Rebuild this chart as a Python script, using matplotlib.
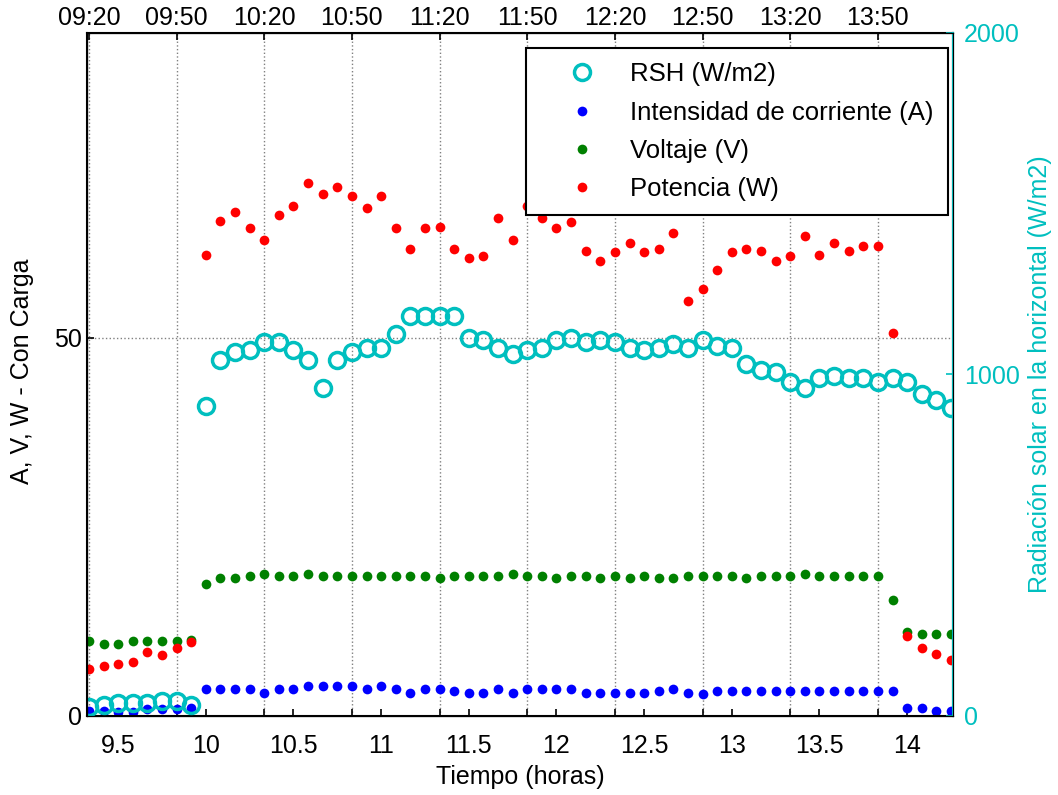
import matplotlib
matplotlib.use("Agg")
import matplotlib.pyplot as plt
from matplotlib.lines import Line2D

plt.rcParams['font.family'] = ['Liberation Sans', 'DejaVu Sans']

# hora de cada medición (cada 5 min)
horas = ["09:20", "09:25", "09:30", "09:35", "09:40", "09:45", "09:50", "09:55",
         "10:00", "10:05", "10:10", "10:15", "10:20", "10:25", "10:30", "10:35",
         "10:40", "10:45", "10:50", "10:55", "11:00", "11:05", "11:10", "11:15",
         "11:20", "11:25", "11:30", "11:35", "11:40", "11:45", "11:50", "11:55",
         "12:00", "12:05", "12:10", "12:15", "12:20", "12:25", "12:30", "12:35",
         "12:40", "12:45", "12:50", "12:55", "13:00", "13:05", "13:10", "13:15",
         "13:20", "13:25", "13:30", "13:35", "13:40", "13:45", "13:50", "13:55",
         "14:00", "14:05", "14:10", "14:15"]

corriente = [0.7, 0.6, 0.5, 0.5, 0.9, 0.9, 0.9, 1.1,
             3.6, 3.6, 3.6, 3.6, 3.1, 3.6, 3.6, 3.9, 3.9, 3.9, 3.9, 3.6,
             3.9, 3.6, 3.1, 3.6, 3.6, 3.35, 3.1, 3.1, 3.6, 3.1,
             3.6, 3.6, 3.6, 3.6, 3.1, 3.1, 3.1, 3.1, 3.1, 3.35,
             3.6, 3.1, 2.9, 3.35, 3.35, 3.35, 3.35, 3.35, 3.35, 3.35,
             3.35, 3.35, 3.35, 3.35, 3.35, 3.35, 1.0, 1.0, 0.7, 0.7]

voltaje = [9.9, 9.5, 9.5, 9.9, 9.9, 9.9, 9.9, 10.1,
           17.5, 18.25, 18.25, 18.5, 18.8, 18.5, 18.5, 18.8, 18.5, 18.5, 18.5, 18.5,
           18.5, 18.5, 18.5, 18.5, 18.25, 18.5, 18.5, 18.5, 18.5, 18.8,
           18.5, 18.5, 18.25, 18.5, 18.5, 18.25, 18.5, 18.25, 18.5, 18.25,
           18.25, 18.5, 18.5, 18.5, 18.5, 18.25, 18.5, 18.5, 18.5, 18.8,
           18.5, 18.5, 18.5, 18.5, 18.5, 15.3, 11.1, 10.85, 10.85, 10.85]

potencia = [6.2, 6.6, 6.9, 7.2, 8.5, 8.1, 9.0, 9.8,
            61.0, 65.5, 66.6, 64.5, 62.9, 66.3, 67.4, 70.5, 69.0, 70.0, 68.7, 67.1,
            68.7, 64.5, 61.8, 64.5, 64.7, 61.8, 60.5, 60.8, 65.8, 62.9,
            67.4, 65.8, 64.5, 65.3, 61.5, 60.2, 61.3, 62.6, 61.3, 61.8,
            63.9, 54.9, 56.5, 58.9, 61.3, 61.8, 61.5, 60.2, 60.8, 63.4,
            61.0, 62.6, 61.5, 62.1, 62.1, 50.7, 10.6, 9.0, 8.2, 7.4]

rsh = [27, 33, 39, 39, 39, 45, 45, 33,
       908, 1043, 1067, 1072, 1096, 1096, 1072, 1043, 961, 1043, 1067, 1078,
       1078, 1119, 1172, 1172, 1172, 1172, 1108, 1102, 1078, 1061,
       1072, 1078, 1102, 1108, 1096, 1102, 1096, 1078, 1072, 1078,
       1090, 1078, 1102, 1084, 1078, 1032, 1014, 1008, 979, 961,
       991, 996, 991, 991, 979, 991, 979, 944, 926, 903]

xticks_bot = [9.5, 10, 10.5, 11, 11.5, 12, 12.5, 13, 13.5, 14]
xlabels_bot = ["9.5", "10", "10.5", "11", "11.5", "12", "12.5", "13", "13.5", "14"]
xlabels_top = ["09:20", "09:50", "10:20", "10:50", "11:20",
               "11:50", "12:20", "12:50", "13:20", "13:50"]


def a_horas(hhmm):
    h, m = hhmm.split(":")
    return int(h) + int(m) / 60


t = [a_horas(h) for h in horas]
xticks_top = [a_horas(h) for h in xlabels_top]

cyan = '#00BFBF'
fs = 18

fig = plt.figure(figsize=(10.58, 7.95), dpi=100)
ax = fig.add_axes([0.0822, 0.0994, 0.8186, 0.8591])

ax.plot(t, corriente, 'o', color='blue', ms=7, mec='none')
ax.plot(t, voltaje, 'o', color='green', ms=7, mec='none')
ax.plot(t, potencia, 'o', color='red', ms=7, mec='none')

xlim = (9.322, 14.262)
ax.set_xlim(xlim)
ax.set_ylim(0, 90.3)
ax.set_yticks([0, 50])
ax.set_xticks(xticks_bot, labels=xlabels_bot)
ax.set_xticks(xticks_top, minor=True)
ax.grid(True, which='minor', axis='x', color='gray', ls=':', lw=1)
ax.grid(True, which='major', axis='y', color='gray', ls=':', lw=1)
ax.tick_params(which='both', direction='in', labelsize=fs, top=False, right=True, length=5, width=1.2)
ax.tick_params(axis='x', pad=13)
ax.set_xlabel('Tiempo (horas)', fontsize=fs, labelpad=5)
ax.set_ylabel('A, V, W - Con Carga', fontsize=fs)
ax.yaxis.set_label_coords(-0.061, 0.505)
for s in ax.spines.values():
    s.set_linewidth(1.5)

ax2 = ax.twinx()
ax2.plot(t, rsh, 'o', mfc='none', mec=cyan, mew=2.5, ms=11.5)
ax2.set_xlim(xlim)
ax2.set_ylim(0, 2000)
ax2.set_yticks([0, 1000, 2000])
ax2.tick_params(axis='y', direction='in', colors=cyan, labelsize=fs, length=5, width=1.2, pad=8)
ax2.set_ylabel('Radiación solar en la horizontal (W/m2)', color=cyan, fontsize=fs, labelpad=6)
ax2.spines['right'].set_color(cyan)
ax2.spines['right'].set_linewidth(1.5)

ax3 = ax.twiny()
ax3.set_xlim(xlim)
ax3.set_xticks(xticks_top, labels=xlabels_top)
ax3.tick_params(axis='x', direction='in', labelsize=fs, length=5, width=1.2, pad=2)

handles = [Line2D([], [], ls='none', marker='o', mfc='none', mec=cyan, mew=2.5, ms=11.5),
           Line2D([], [], ls='none', marker='o', color='blue', mec='none', ms=7),
           Line2D([], [], ls='none', marker='o', color='green', mec='none', ms=7),
           Line2D([], [], ls='none', marker='o', color='red', mec='none', ms=7)]
labels = ['RSH (W/m2)', 'Intensidad de corriente (A)', 'Voltaje (V)', 'Potencia (W)']
leg = ax3.legend(handles, labels, loc='upper right', bbox_to_anchor=(0.9942, 0.978),
                 fontsize=18.5, frameon=True, fancybox=False, edgecolor='black',
                 framealpha=1, borderpad=0.55, labelspacing=0.56, handlelength=3.27,
                 handletextpad=0.23, borderaxespad=0)
leg.get_frame().set_linewidth(1.5)

fig.savefig('out.png', dpi=100)
